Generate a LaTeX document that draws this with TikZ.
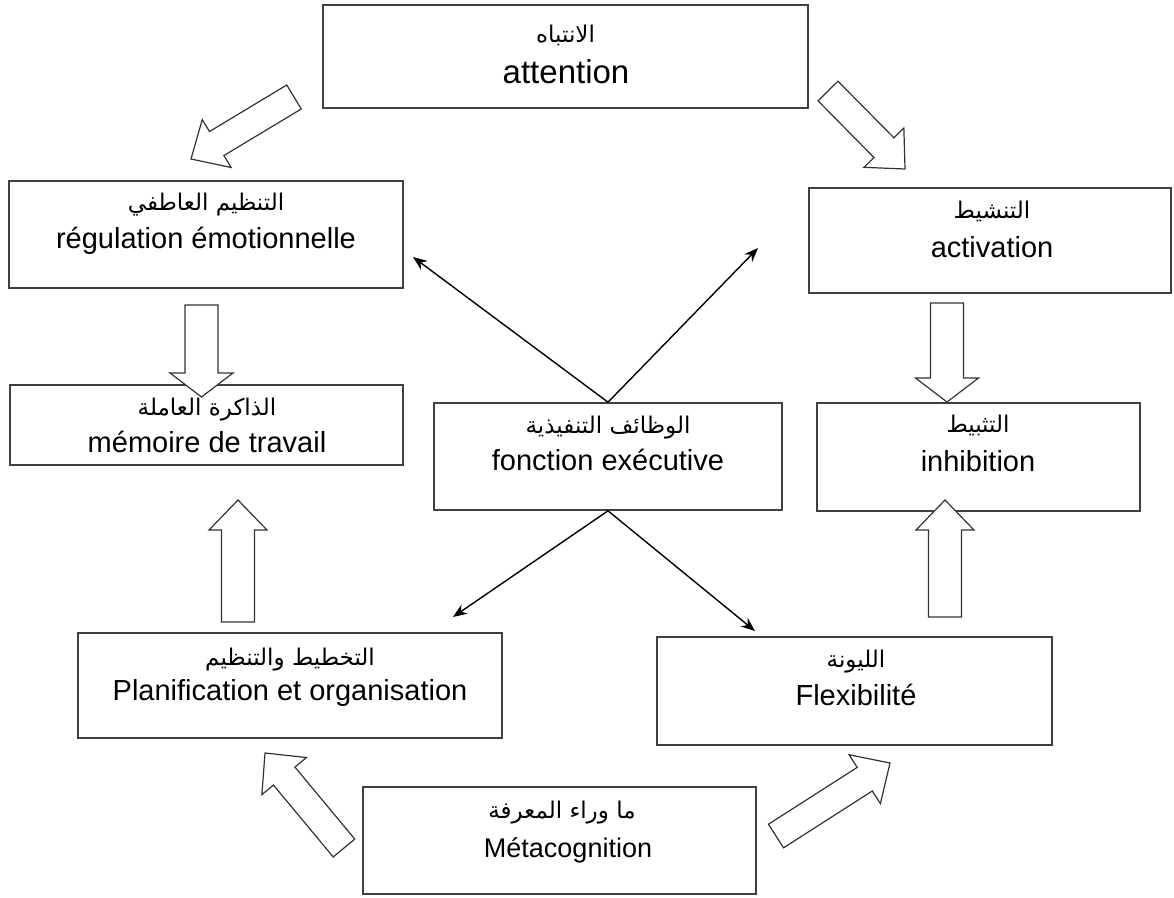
\documentclass[tikz,border=0pt]{standalone}
\usepackage{fontspec}
\setmainfont{Liberation Sans}
\newfontfamily\arabicfont[Script=Arabic]{DejaVu Sans}
\TeXXeTstate=1
\usetikzlibrary{calc,arrows.meta}
\newcommand\blockarrow[5]{%
  \coordinate (hb) at ($(#2)!#5!(#1)$);
  \draw[blk] ($(#1)!#3!90:(#2)$) -- ($(hb)!#3!90:(#2)$) -- ($(hb)!#4!90:(#2)$) -- (#2)
    -- ($(hb)!#4!-90:(#2)$) -- ($(hb)!#3!-90:(#2)$) -- ($(#1)!#3!-90:(#2)$) -- cycle;}
\begin{document}
\begin{tikzpicture}[x=1pt,y=-1pt,
  box/.style={draw=black!75, line width=1.6pt, rectangle, inner sep=0pt},
  ar/.style={font=\arabicfont\fontsize{23}{25}\selectfont, inner sep=0pt, anchor=base},
  fr/.style={font=\fontsize{29}{31}\selectfont, inner sep=0pt, anchor=base},
  thin/.style={draw=black, line width=1.4pt, -{Stealth[length=14pt,width=11pt]}},
  blk/.style={draw=black!80, line width=1.2pt, fill=white, line join=miter}]
\path[use as bounding box] (0,0) rectangle (1174,897);

% boxes
\node[box, minimum width=485pt, minimum height=103pt] (att) at (565.5,56.5) {};
\node[box, minimum width=394pt, minimum height=107pt] (reg) at (206,234.5) {};
\node[box, minimum width=362pt, minimum height=105pt] (act) at (990,240.5) {};
\node[box, minimum width=393pt, minimum height=80pt] (mem) at (206.5,425) {};
\node[box, minimum width=348pt, minimum height=107pt] (fon) at (608,456.5) {};
\node[box, minimum width=323pt, minimum height=108pt] (inh) at (978.5,457) {};
\node[box, minimum width=424pt, minimum height=105pt] (pla) at (290,685.5) {};
\node[box, minimum width=395pt, minimum height=108pt] (fle) at (854.5,691) {};
\node[box, minimum width=393pt, minimum height=107pt] (met) at (559.5,840.5) {};

% texts
\node[ar] (attA) at (565.5,42) {\beginR الانتباه\endR};
\node[fr, font=\fontsize{33}{35}\selectfont] (attF) at (566,83) {attention};
\node[ar] (regA) at (206,210) {\beginR التنظيم العاطفي\endR};
\node[fr] (regF) at (206,248) {régulation émotionnelle};
\node[ar] (actA) at (992,218) {\beginR التنشيط\endR};
\node[fr] (actF) at (992,257) {activation};
\node[ar] (memA) at (207,415) {\beginR الذاكرة العاملة\endR};
\node[fr] (memF) at (207,452) {mémoire de travail};
\node[ar] (fonA) at (608,433) {\beginR الوظائف التنفيذية\endR};
\node[fr] (fonF) at (608,470) {fonction exécutive};
\node[ar] (inhA) at (978,432) {\beginR التثبيط\endR};
\node[fr] (inhF) at (978,471) {inhibition};
\node[ar] (plaA) at (290,665) {\beginR التخطيط والتنظيم\endR};
\node[fr] (plaF) at (290,700) {Planification et organisation};
\node[ar] (fleA) at (856,667) {\beginR الليونة\endR};
\node[fr] (fleF) at (856,705) {Flexibilité};
\node[ar] (metA) at (562,818) {\beginR ما وراء المعرفة\endR};
\node[fr, font=\fontsize{27}{29}\selectfont] (metF) at (568,857) {Métacognition};

% thin arrows
\coordinate (t-reg) at (413,257);
\coordinate (t-act) at (758,248);
\coordinate (t-pla) at (453,617);
\coordinate (t-fle) at (755,631);
\draw[thin] (fon.north) -- (t-reg);
\draw[thin] (fon.north) -- (t-act);
\draw[thin] (fon.south) -- (t-pla);
\draw[thin] (fon.south) -- (t-fle);

% block arrows
\coordinate (a1) at (294,97);  \coordinate (b1) at (191,159);
\coordinate (a2) at (828,91);  \coordinate (b2) at (905,169);
\coordinate (a3) at (201.5,305); \coordinate (b3) at (201.5,397);
\coordinate (a4) at (947,303); \coordinate (b4) at (947,402);
\coordinate (a5) at (238,622); \coordinate (b5) at (238,500);
\coordinate (a6) at (945,617); \coordinate (b6) at (945,500);
\coordinate (a7) at (344,848); \coordinate (b7) at (265,753);
\coordinate (a8) at (776,836); \coordinate (b8) at (890,763);
\blockarrow{a1}{b1}{14pt}{28pt}{30pt}
\blockarrow{a2}{b2}{14pt}{28pt}{30pt}
\blockarrow{a3}{b3}{16.5pt}{31.5pt}{24pt}
\blockarrow{a4}{b4}{16.5pt}{31.5pt}{24pt}
\blockarrow{a5}{b5}{16.5pt}{29pt}{30pt}
\blockarrow{a6}{b6}{16.5pt}{29pt}{30pt}
\blockarrow{a7}{b7}{14pt}{29pt}{30pt}
\blockarrow{a8}{b8}{14pt}{29pt}{30pt}
\end{tikzpicture}
\end{document}
